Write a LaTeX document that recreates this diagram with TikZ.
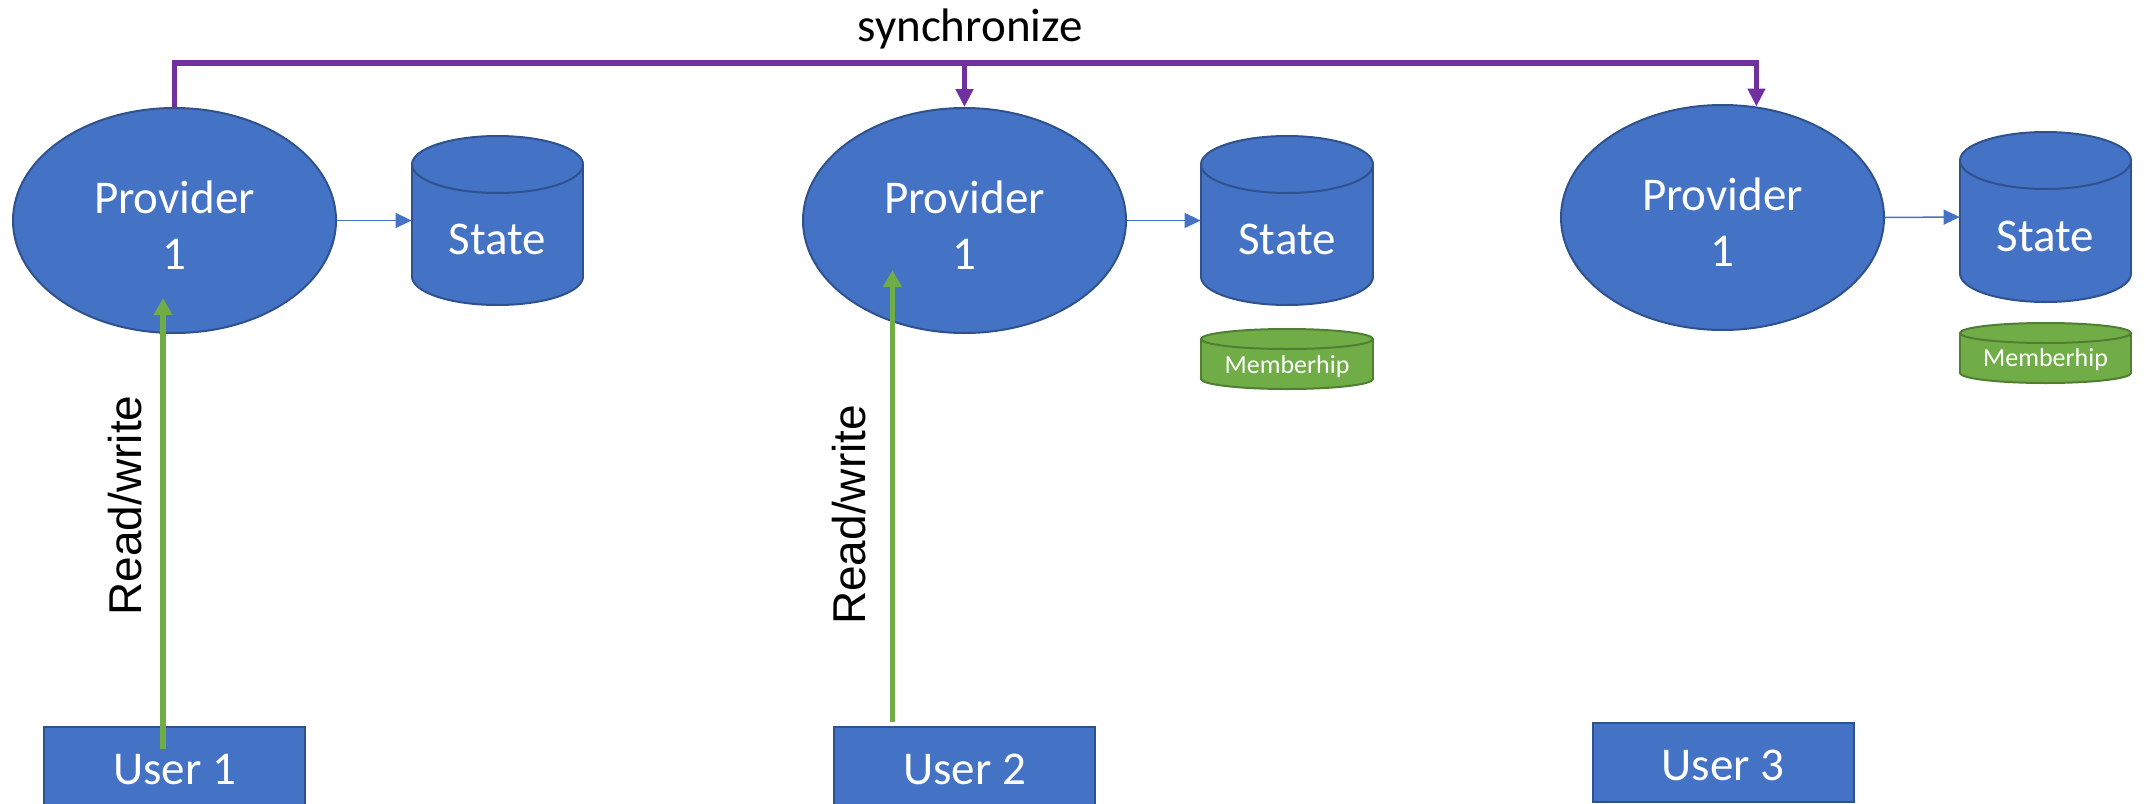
\documentclass[tikz,border=0pt]{standalone}
\usepackage{fontspec}
\setmainfont{Carlito}
\newfontfamily\rwfont{Liberation Sans}
\usetikzlibrary{arrows.meta,calc,shapes.geometric}

\definecolor{nodeblue}{HTML}{4472C4}
\definecolor{nodeblueD}{HTML}{2F528F}
\definecolor{membgreen}{HTML}{70AD47}
\definecolor{membgreenD}{HTML}{507E32}
\definecolor{syncpurple}{HTML}{7030A0}

\newcommand\bigtxt{\fontsize{23.5}{28}\selectfont}
\newcommand\smalltxt{\fontsize{13}{15}\selectfont}

% database cylinder: name, centre x, top y, bottom y, x radius, y radius, style, text, text offset
\newcommand\dbcyl[9]{%
  \node[draw=none, inner sep=0, minimum width={#5*1pt}, minimum height={(#4-#3)*0.5pt}] (#1) at (#2,{(#3+#4)/2}) {};
  \filldraw[#7] (#2,{#4-#6}) ellipse [x radius=#5, y radius=#6];
  \fill[#7, draw=none] ({#2-#5},{#3+#6}) rectangle ({#2+#5},{#4-#6});
  \draw[#7, fill=none] ({#2-#5},{#3+#6}) -- ({#2-#5},{#4-#6}) ({#2+#5},{#3+#6}) -- ({#2+#5},{#4-#6});
  \filldraw[#7] (#2,{#3+#6}) ellipse [x radius=#5, y radius=#6];
  \node[cyltext] (#1-label) at (#2,{(#3+#4)/2+#9}) {#8};
}

\tikzset{
  provider/.style={ellipse, fill=nodeblue, draw=nodeblueD, line width=1pt,
    minimum width=161.5pt, minimum height=112.5pt, inner sep=0,
    text=white, align=center, font=\bigtxt},
  userbox/.style={rectangle, fill=nodeblue, draw=nodeblueD, line width=1pt,
    minimum width=130.5pt, minimum height=39.5pt, inner sep=0,
    text=white, font=\bigtxt},
  cylblue/.style={fill=nodeblue, draw=nodeblueD, line width=1pt},
  cylgreen/.style={fill=membgreen, draw=membgreenD, line width=1pt},
  cyltext/.style={text=white, inner sep=0},
  storeconn/.style={draw=nodeblue, line width=0.75pt,
    -{Triangle[length=8pt, width=7.5pt]}},
  syncline/.style={draw=syncpurple, line width=2.7pt},
  synctip/.style={-{Triangle[length=9pt, width=8.5pt]}},
  rwarrow/.style={draw=membgreen, line width=2.8pt,
    -{Triangle[length=8.5pt, width=9pt]}},
  rwlabel/.style={rotate=90, anchor=south, inner xsep=0, font=\rwfont\fontsize{23}{27}\selectfont}
}

\begin{document}
\begin{tikzpicture}[x=0.5pt, y=-0.5pt]
\useasboundingbox (0,0) rectangle (2145,803);
\clip (0,0) rectangle (2145,803);

% providers (the strut sets the two-line label a little lower)
\node[provider] (p1) at (174.5,220.5) {\rule{0pt}{21pt}Provider\\1};
\node[provider] (p2) at (964.5,220.5) {\rule{0pt}{21pt}Provider\\1};
\node[provider] (p3) at (1722.5,217.5) {\rule{0pt}{21pt}Provider\\1};

% state stores and membership stores
\dbcyl{s1}{497.5}{136}{305}{85.5}{28.5}{cylblue}{\bigtxt State}{18.5}
\dbcyl{s2}{1287}{136}{305}{86}{28.5}{cylblue}{\bigtxt State}{18.5}
\dbcyl{s3}{2045.5}{132}{302}{85.5}{28.5}{cylblue}{\bigtxt State}{19}
\dbcyl{m2}{1287}{329}{389}{86}{10}{cylgreen}{\smalltxt Memberhip}{8}
\dbcyl{m3}{2045.5}{323}{383}{85.5}{10}{cylgreen}{\smalltxt Memberhip}{7}

% users
\node[userbox] (u1) at (174.5,766.5) {\rule{0pt}{18pt}User 1};
\node[userbox] (u2) at (964.5,766.5) {\rule{0pt}{18pt}User 2};
\node[userbox] (u3) at (1723,762.5) {\rule{0pt}{18pt}User 3};

% provider to state
\draw[storeconn] (p1.east) -- (s1.west);
\draw[storeconn] (p2.east) -- (s2.west);
\draw[storeconn] (p3.east) -- (s3.west);

% synchronisation bus
\coordinate (bus) at (0,63);
\draw[syncline, synctip] (p1.north) -- (p1.north |- bus) -| (p3.73);
\draw[syncline, synctip] (p2.north |- bus) -- (p2.north);
\node[font=\bigtxt, inner sep=0] (synclabel) at (970,29) {synchronize};

% user access
\draw[rwarrow] ($(u1.north)+(-11.5,23)$) -- node[rwlabel, pos=0.54, inner ysep=9pt] (rw1) {Read/write} ($(p1.south)+(-11.5,-36)$);
\draw[rwarrow] ($(u2.north)+(-72,-4)$) -- node[rwlabel, pos=0.458, inner ysep=11.75pt] (rw2) {Read/write} ($(p2.south)+(-72,-64)$);
\end{tikzpicture}
\end{document}
